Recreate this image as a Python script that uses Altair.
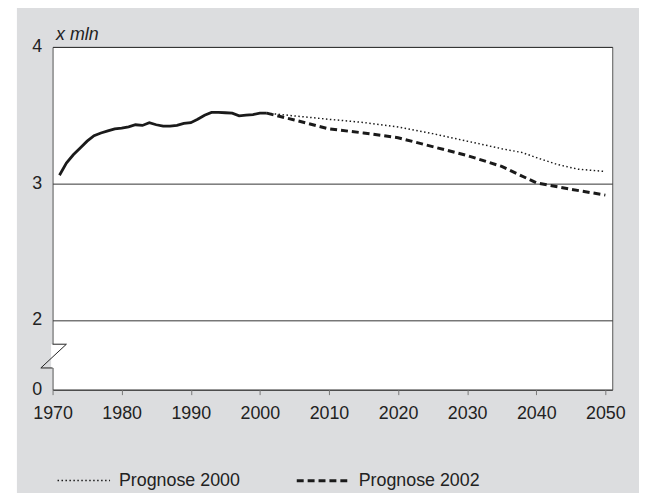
import altair as alt
import pandas as pd

# historical series
hist_years = list(range(1971, 2002))
hist_values = [3.06, 3.15, 3.21, 3.26, 3.31, 3.35, 3.37, 3.385, 3.40, 3.405,
               3.415, 3.43, 3.425, 3.445, 3.43, 3.42, 3.42, 3.425, 3.44, 3.445,
               3.47, 3.50, 3.52, 3.52, 3.518, 3.515, 3.495, 3.50, 3.505, 3.515, 3.515]

# forecasts
p2000_years = [2001, 2005, 2010, 2015, 2020, 2025, 2030, 2035, 2038, 2040, 2043, 2046, 2050]
p2000_values = [3.515, 3.495, 3.47, 3.447, 3.414, 3.365, 3.31, 3.255, 3.226, 3.19, 3.14, 3.105, 3.088]
p2002_years = [2001, 2005, 2010, 2015, 2020, 2025, 2030, 2035, 2040, 2045, 2050]
p2002_values = [3.515, 3.465, 3.40, 3.37, 3.335, 3.27, 3.205, 3.125, 3.005, 2.958, 2.915]

series_names = ["Prognose 2000", "Prognose 2002"]
x_ticks = [1970, 1980, 1990, 2000, 2010, 2020, 2030, 2040, 2050]
y_ticks = [1.49, 2, 3, 4]

# axis-break decoration (data units)
break_x = [1970, 1972, 1968.3, 1970]
break_y = [1.823, 1.823, 1.649, 1.649]

FONT = "Liberation Sans, Arial, sans-serif"
INK = "#222222"

hist_df = pd.DataFrame({"jaar": hist_years, "waarde": hist_values})
fc_df = pd.concat([
    pd.DataFrame({"jaar": p2000_years, "waarde": p2000_values, "reeks": series_names[0]}),
    pd.DataFrame({"jaar": p2002_years, "waarde": p2002_values, "reeks": series_names[1]}),
])
brk_df = pd.DataFrame({"bx": break_x, "by": break_y, "i": list(range(len(break_x)))})
gap_df = pd.DataFrame({"bx": [1970], "y1": [break_y[2]], "y2": [break_y[0]]})

x_scale = alt.Scale(domain=[1970, 2051], nice=False, zero=False)
y_scale = alt.Scale(domain=[1.49, 4], nice=False, zero=False)

x_enc = alt.X("jaar:Q", scale=x_scale, title=None,
              axis=alt.Axis(values=x_ticks, format="d", grid=False, domain=False,
                            ticks=True, tickSize=5, tickColor="#777777",
                            labelPadding=10, labelFontSize=18, labelColor=INK,
                            labelFont=FONT, labelFlush=False, labelOverlap=False,
                            zindex=0))
y_enc = alt.Y("waarde:Q", scale=y_scale, title="x mln",
              axis=alt.Axis(values=y_ticks,
                            labelExpr="datum.value < 1.9 ? '0' : format(datum.value, 'd')",
                            grid=True, gridColor="#333333", gridWidth=1,
                            domain=False, ticks=False, labelPadding=11,
                            labelFontSize=18, labelColor=INK, labelFont=FONT,
                            labelFlush=False, labelOverlap=False,
                            titleAngle=0, titleAlign="left", titleBaseline="alphabetic",
                            titleX=3, titleY=-7, titleFontSize=18, titleFontStyle="italic",
                            titleFontWeight="normal", titleColor=INK, titleFont=FONT,
                            zindex=0))

# white page strip left of the grey panel (decoration)
strip = alt.Chart(pd.DataFrame({"d": [0]})).mark_rect(color="white", clip=False).encode(
    x=alt.value(-46), x2=alt.value(-36), y=alt.value(-40), y2=alt.value(460))

hist = alt.Chart(hist_df).mark_line(color="#1a1a1a", strokeWidth=2.8).encode(x=x_enc, y=y_enc)

fc = alt.Chart(fc_df).mark_line(color="#1a1a1a").encode(
    x="jaar:Q", y="waarde:Q",
    strokeDash=alt.StrokeDash("reeks:N",
        scale=alt.Scale(domain=series_names, range=[[1.5, 2.5], [7, 4]]),
        legend=alt.Legend(title=None, orient="none", direction="horizontal",
                          legendX=4, legendY=410, symbolType="stroke",
                          symbolSize=2809, symbolStrokeWidth=1.5,
                          symbolStrokeColor="#1a1a1a", labelOffset=8,
                          columnPadding=50, labelFontSize=18, labelColor=INK,
                          labelFont=FONT)),
    strokeWidth=alt.StrokeWidth("reeks:N",
        scale=alt.Scale(domain=series_names, range=[1.5, 3]), legend=None),
)

gap = alt.Chart(gap_df).mark_rule(color="white", strokeWidth=3, clip=False).encode(
    x="bx:Q", y="y1:Q", y2="y2:Q")
brk = alt.Chart(brk_df).mark_line(color="#222222", strokeWidth=1, clip=False).encode(
    x="bx:Q", y="by:Q", order="i:Q")

chart = alt.layer(strip, hist, fc, gap, brk).properties(
    width=565, height=346,
    autosize=alt.AutoSizeParams(type="none"),
    padding={"left": 45, "top": 37, "right": 27, "bottom": 102},
    background="#dcdddf",
).configure_view(fill="white", stroke="#555555", strokeWidth=1)

chart.save("out.html", embed_options={"renderer": "svg", "actions": False})
